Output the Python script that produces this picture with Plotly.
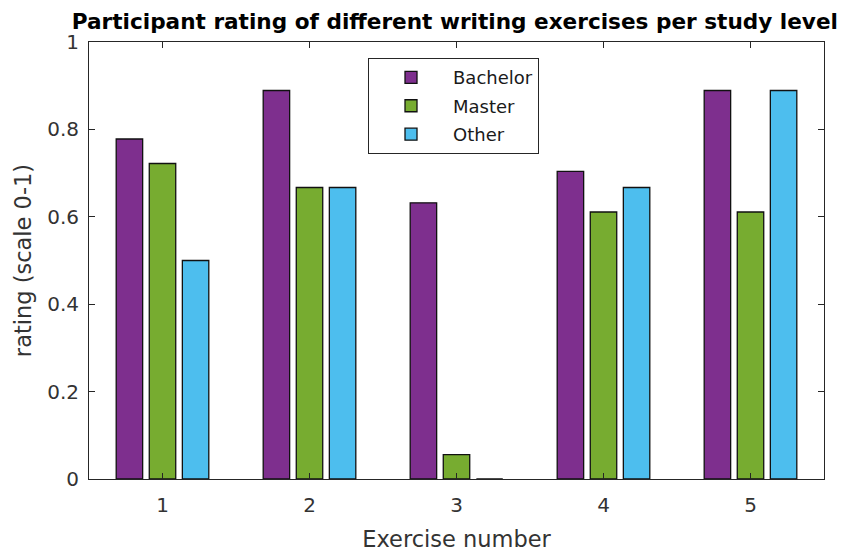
import plotly.graph_objects as go

exercises = [1, 2, 3, 4, 5]
bachelor = [0.778, 0.889, 0.632, 0.704, 0.889]
master = [0.722, 0.667, 0.056, 0.611, 0.611]
other = [0.5, 0.667, 0.0, 0.667, 0.889]
series_names = ["Bachelor", "Master", "Other"]
colors = ["#7E2F8E", "#77AC30", "#4DBEEE"]

FONT = "DejaVu Sans, Liberation Sans, Arial, sans-serif"
AX = "#262626"
TXT = "#333333"

fig = go.Figure()
for i, (name, vals) in enumerate(zip(series_names, [bachelor, master, other])):
    fig.add_trace(go.Bar(
        x=exercises, y=vals, name=name, legendgroup=name,
        marker=dict(color=colors[i], line=dict(color="#111111", width=1.3)),
    ))

fig.update_layout(
    width=848, height=554,
    margin=dict(l=81, r=32, t=34, b=83),
    paper_bgcolor="white", plot_bgcolor="white",
    barmode="group", bargap=0.325, bargroupgap=0.2,
    font=dict(family=FONT, size=20, color=TXT),
    title=dict(
        text="<b>Participant rating of different writing exercises per study level</b>",
        x=0.527, xanchor="center", y=0.9765, yanchor="middle",
        font=dict(family=FONT, size=21.6, color="#000000"),
    ),
    legend=dict(
        x=0.3796, y=0.963, xanchor="left", yanchor="top",
        bordercolor=AX, borderwidth=1, bgcolor="white",
        font=dict(family=FONT, size=18, color="#1a1a1a"),
        tracegroupgap=2, itemwidth=74,
    ),
    showlegend=True,
)
fig.update_xaxes(
    range=[0.5, 5.5], tickmode="array", tickvals=exercises,
    ticktext=[str(e) for e in exercises],
    showline=True, linecolor=AX, linewidth=1, mirror="ticks",
    ticks="inside", ticklen=6, tickcolor=AX, showgrid=False, zeroline=False,
    ticklabelstandoff=8,
    title=dict(text="Exercise number", font=dict(family=FONT, size=22.5, color=TXT), standoff=15),
    tickfont=dict(family=FONT, size=20, color=TXT),
)
fig.update_yaxes(
    range=[0, 1], tickmode="array", tickvals=[0, 0.2, 0.4, 0.6, 0.8, 1],
    ticktext=["0", "0.2", "0.4", "0.6", "0.8", "1"],
    showline=True, linecolor=AX, linewidth=1, mirror="ticks",
    ticks="inside", ticklen=6, tickcolor=AX, showgrid=False, zeroline=False,
    ticklabelstandoff=5,
    title=dict(text="rating (scale 0-1)", font=dict(family=FONT, size=22.5, color=TXT), standoff=9),
    tickfont=dict(family=FONT, size=20, color=TXT),
)

fig.write_html("out.html")
